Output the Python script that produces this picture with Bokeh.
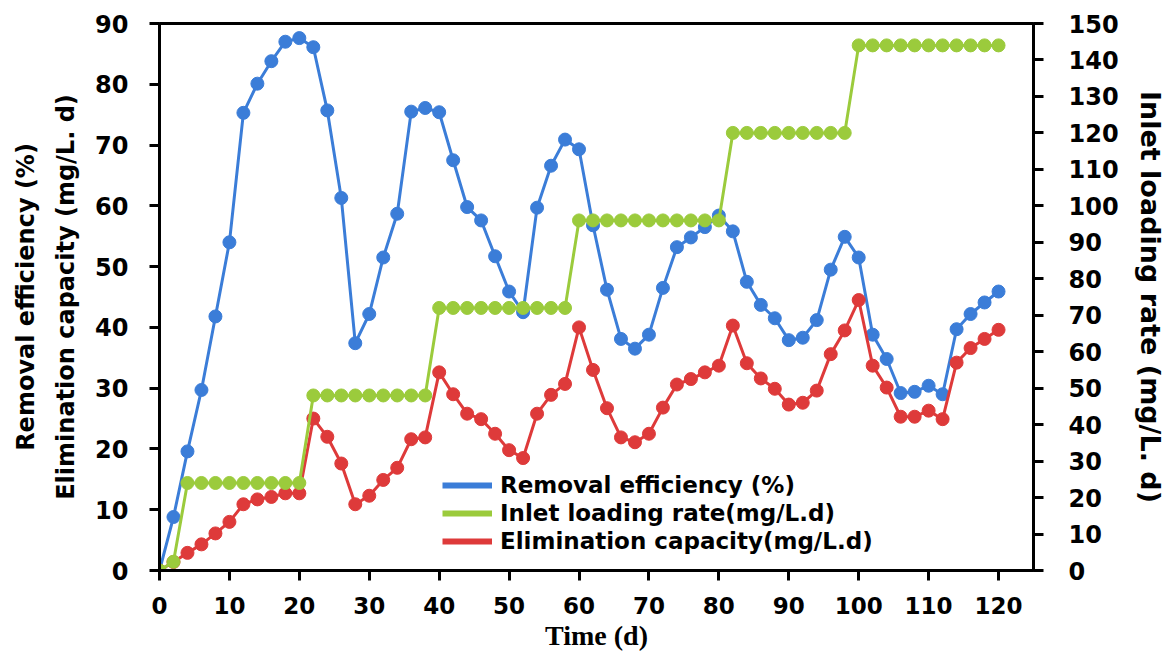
from bokeh.plotting import figure
from bokeh.models import Range1d, LinearAxis, FixedTicker, Legend, LegendItem, ColumnDataSource, CDSView, IndexFilter
from bokeh.embed import file_html
from bokeh.resources import INLINE

days = list(range(0, 121, 2))
removal = [0, 8.8, 19.6, 29.7, 41.8, 54.0, 75.3, 80.1, 83.8, 87.0, 87.6, 86.1, 75.7, 61.3,
           37.4, 42.2, 51.5, 58.7, 75.5, 76.1, 75.4, 67.5, 59.8, 57.6, 51.7, 45.9, 42.5,
           59.7, 66.6, 70.9, 69.3, 56.8, 46.2, 38.1, 36.5, 38.8, 46.5, 53.2, 54.8, 56.5,
           58.4, 55.8, 47.5, 43.7, 41.5, 37.9, 38.3, 41.2, 49.5, 54.9, 51.5, 38.8, 34.8,
           29.2, 29.4, 30.4, 29.0, 39.7, 42.2, 44.1, 45.9]
inlet = ([0, 2.4] + [24] * 9 + [48] * 9 + [72] * 10 + [96] * 11 + [120] * 9 + [144] * 11)
elimination = [0, 1.4, 2.9, 4.3, 6.1, 8.0, 10.9, 11.7, 12.1, 12.7, 12.7, 25.0, 22.0, 17.6,
               10.9, 12.3, 14.9, 16.9, 21.6, 21.9, 32.6, 29.0, 25.8, 24.9, 22.5, 19.8, 18.5,
               25.8, 28.9, 30.7, 40.0, 33.0, 26.7, 21.9, 21.1, 22.5, 26.8, 30.6, 31.5, 32.6,
               33.7, 40.3, 34.1, 31.6, 29.9, 27.3, 27.6, 29.6, 35.6, 39.5, 44.5, 33.7, 30.1,
               25.3, 25.3, 26.3, 24.9, 34.2, 36.6, 38.1, 39.6]
x_ticks = list(range(0, 121, 10))
left_ticks = list(range(0, 91, 10))
right_ticks = list(range(0, 151, 10))
series_names = ["Removal efficiency (%)", "Inlet loading rate(mg/L.d)", "Elimination capacity(mg/L.d)"]

BLUE = "#3B7DD8"
GREEN = "#9BCB3C"
RED = "#DE3A3A"

src = ColumnDataSource(dict(day=days, removal=removal, inlet=inlet, elimination=elimination))

p = figure(frame_width=874, frame_height=547, min_border_left=159, min_border_right=131,
           min_border_top=23, min_border_bottom=81,
           x_range=Range1d(0, 125), y_range=Range1d(0, 90),
           output_backend="svg", toolbar_location=None)
p.extra_y_ranges = {"right": Range1d(0, 150)}
p.xgrid.visible = False
p.ygrid.visible = False
p.outline_line_color = "black"
p.outline_line_width = 3
p.outline_line_alpha = 1

TICK_FONT = "DejaVu Sans"

def style_axis(ax, standoff, size="24px"):
    ax.axis_line_color = "black"
    ax.axis_line_width = 3
    ax.major_tick_line_color = "black"
    ax.major_tick_line_width = 3
    ax.major_tick_out = 10
    ax.major_tick_in = 0
    ax.minor_tick_line_color = None
    ax.major_label_text_font = TICK_FONT
    ax.major_label_text_font_style = "bold"
    ax.major_label_text_font_size = size
    ax.major_label_text_color = "black"
    ax.major_label_standoff = standoff

# bottom axis
xa = p.xaxis[0]
xa.ticker = FixedTicker(ticks=x_ticks)
style_axis(xa, 16, "23px")
xa.axis_label = "Time (d)"
xa.axis_label_text_font = "Liberation Serif"
xa.axis_label_text_font_style = "bold"
xa.axis_label_text_font_size = "28px"
xa.axis_label_text_color = "black"
xa.axis_label_standoff = 3

# left axis
ya = p.yaxis[0]
ya.ticker = FixedTicker(ticks=left_ticks)
style_axis(ya, 21)
ya.axis_label = "Elimination capacity (mg/L. d)"
ya.axis_label_text_font = "DejaVu Sans"
ya.axis_label_text_font_style = "bold"
ya.axis_label_text_font_size = "24px"
ya.axis_label_text_color = "black"
ya.axis_label_standoff = 12

ya2 = LinearAxis(ticker=FixedTicker(ticks=[]), axis_line_color=None,
                 major_tick_out=0, major_tick_in=0, minor_tick_line_color=None,
                 major_label_standoff=0, axis_label="Removal efficiency (%)",
                 axis_label_text_font="DejaVu Sans", axis_label_text_font_style="bold",
                 axis_label_text_font_size="24px", axis_label_text_color="black",
                 axis_label_standoff=10)
p.add_layout(ya2, "left")

# right axis
yr = LinearAxis(y_range_name="right", ticker=FixedTicker(ticks=right_ticks))
style_axis(yr, 25)
yr.axis_label = "Inlet loading rate (mg/L. d)"
yr.axis_label_text_font = "DejaVu Sans"
yr.axis_label_text_font_style = "bold"
yr.axis_label_text_font_size = "27px"
yr.axis_label_text_color = "black"
yr.axis_label_standoff = 13
p.add_layout(yr, "right")

# series
p.line("day", "removal", source=src, line_color=BLUE, line_width=3)
p.scatter("day", "removal", source=src, size=13, marker="circle", fill_color=BLUE, line_color=BLUE)
p.line("day", "elimination", source=src, line_color=RED, line_width=3)
p.scatter("day", "elimination", source=src, size=13, marker="circle", fill_color=RED, line_color=RED)
p.line("day", "inlet", source=src, line_color=GREEN, line_width=3, y_range_name="right")
p.scatter("day", "inlet", source=src, size=13, marker="circle", fill_color=GREEN, line_color=GREEN,
          y_range_name="right")

# legend proxies: thick line samples; a one-point view draws nothing in the plot
def proxy(col, color, **kw):
    return p.line("day", col, source=src, view=CDSView(filter=IndexFilter(indices=[0])),
                  line_color=color, line_width=6, **kw)

lb = proxy("removal", BLUE)
lg = proxy("inlet", GREEN, y_range_name="right")
lr = proxy("elimination", RED)
legend = Legend(items=[LegendItem(label=series_names[0], renderers=[lb]),
                       LegendItem(label=series_names[1], renderers=[lg]),
                       LegendItem(label=series_names[2], renderers=[lr])],
                location=(283, 16))
legend.label_text_font = "DejaVu Sans"
legend.label_text_font_style = "bold"
legend.label_text_font_size = "23px"
legend.label_text_color = "black"
legend.background_fill_color = "white"
legend.background_fill_alpha = 1
legend.border_line_color = None
legend.glyph_width = 50
legend.glyph_height = 20
legend.label_height = 20
legend.spacing = 2
legend.padding = 6
legend.margin = 0
legend.label_standoff = 8
p.add_layout(legend)

open("out.html", "w").write(file_html(p, INLINE))
